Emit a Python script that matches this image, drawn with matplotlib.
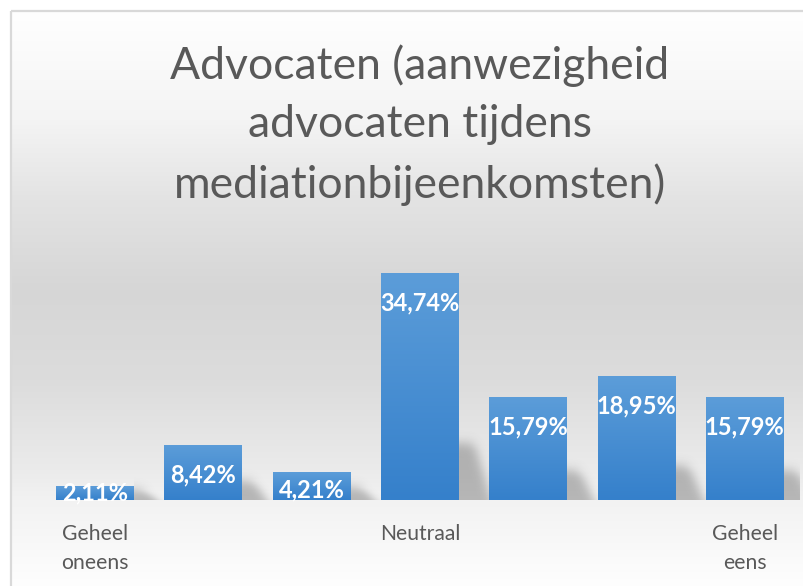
import math
import numpy as np
import matplotlib
matplotlib.use('Agg')
import matplotlib.pyplot as plt
from matplotlib.colors import LinearSegmentedColormap

# ---- data ----
categories = ['1', '2', '3', '4', '5', '6', '7']
values = [2.11, 8.42, 4.21, 34.74, 15.79, 18.95, 15.79]
tick_labels = ['Geheel\noneens', '', '', 'Neutraal', '', '', 'Geheel\neens']
title = 'Advocaten (aanwezigheid\nadvocaten tijdens\nmediationbijeenkomsten)'

FONT = 'Lato'
W, H = 804, 586
fig = plt.figure(figsize=(W / 100, H / 100), dpi=100)
fig.patch.set_facecolor('white')

# ---- background gradient + frame ----
bg = fig.add_axes([0, 0, 1, 1], zorder=0)
bg.set_xlim(0, W)
bg.set_ylim(H, 0)
bg.axis('off')
stops_y = [11, 120, 200, 290, 380, 470, 500, 586]
stops_v = [255, 244, 227, 214, 220, 235, 242, 254]
yy = np.arange(11, H) + 0.5
col = np.interp(yy, stops_y, stops_v) / 255.0
img = np.dstack([col[:, None]] * 3)
bg.imshow(img, extent=[11, W + 2, H, 11], aspect='auto', interpolation='bilinear')
bg.plot([11.5, 11.5], [10.5, H], color='#d9d9d9', lw=1.6, solid_capstyle='butt')
bg.plot([11.5, W], [10.5, 10.5], color='#d9d9d9', lw=1.6, solid_capstyle='butt')
bg.set_xlim(0, W)
bg.set_ylim(H, 0)

# ---- main axes ----
ax_l, ax_r, ax_b = 41, 799, 500
ymax = 40.0
ax_h = 261.4
ax = fig.add_axes([ax_l / W, (H - ax_b) / H, (ax_r - ax_l) / W, ax_h / H], zorder=1)
ax.patch.set_alpha(0)
x = np.arange(len(categories))
bw = 0.72
px_x = (ax_r - ax_l) / len(categories)
px_y = ax_h / ymax

bars = ax.bar(x, values, width=bw, color='none', edgecolor='none', zorder=3)

cmap = LinearSegmentedColormap.from_list('bar', ['#5c9dd9', '#3580cb'])
grad = np.linspace(0, 1, 256)[:, None]

def S(t):
    return 0.5 * (1 + np.vectorize(math.erf)(t / math.sqrt(2)))

for xi, v, b in zip(x, values, bars):
    x0 = xi - bw / 2
    x1 = xi + bw / 2
    im = ax.imshow(grad, cmap=cmap, extent=[x0, x1, 0, v], aspect='auto',
                   origin='upper', zorder=3, interpolation='bilinear')
    im.set_clip_path(b)
    # soft shadow to the right
    hpx = v * px_y
    hs = 0.22 * hpx + 7
    w0 = 22 + 0.05 * hpx
    sw, sh = 50, int(hs + 20)
    dx = np.arange(sw)[None, :] + 0.5
    dy = np.arange(sh)[:, None] + 0.5
    wy = w0 * (1 - 0.55 * np.clip(dy / hs, 0, 1))
    alpha = 0.36 * S((wy - dx) / 5.5) * S((hs - dy) / 5.5)
    shadow = np.zeros((sh, sw, 4))
    shadow[..., :3] = 0.3
    shadow[..., 3] = alpha
    ax.imshow(shadow, extent=[x1, x1 + sw / px_x, 0, sh / px_y], aspect='auto',
              origin='lower', zorder=2, interpolation='bilinear')

for xi, v in zip(x, values):
    hpx = v * px_y
    off = min(30, max(hpx - 10, 7))
    lab = f'{v:.2f}'.replace('.', ',') + '%'
    ax.annotate(lab, (xi, v), xytext=(0, -off * 0.72), textcoords='offset points',
                ha='center', va='center', color='white', fontweight='bold',
                fontsize=17, family=FONT, zorder=5)

ax.set_xlim(-0.5, len(categories) - 0.5)
ax.set_ylim(0, ymax)
ax.set_xticks(x)
ax.set_xticklabels(tick_labels, fontsize=15.2, color='#595959', family=FONT,
                   linespacing=1.6)
ax.tick_params(axis='x', length=0, pad=17)
ax.set_yticks([])
for s in ax.spines.values():
    s.set_visible(False)

fig.text(420 / W, 1 - 125 / H, title, ha='center', va='center', fontsize=32,
         color='#595959', family=FONT, linespacing=1.52)

fig.savefig('out.png', dpi=100)
